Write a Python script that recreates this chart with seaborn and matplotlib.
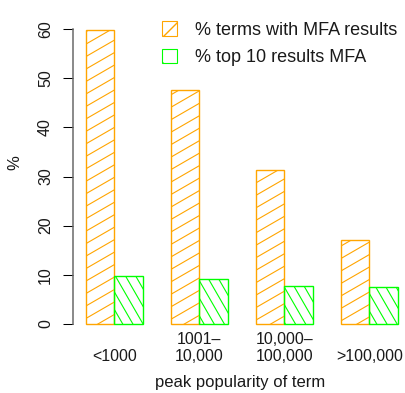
import numpy as np
import pandas as pd
import matplotlib
matplotlib.use("Agg")
import matplotlib.pyplot as plt
import seaborn as sns
from matplotlib.collections import LineCollection
from matplotlib.colors import to_rgb
from matplotlib.patches import Patch
from matplotlib.transforms import IdentityTransform

# Share of search terms by peak popularity bucket
categories = ["<1000", "1001–\n10,000", "10,000–\n100,000", ">100,000"]
series_names = ["% terms with MFA results", "% top 10 results MFA"]
pct_with_mfa = [59.8, 47.5, 31.3, 17.1]
pct_top10_mfa = [9.8, 9.1, 7.8, 7.5]
y_ticks = [0, 10, 20, 30, 40, 50, 60]

colors = ["#FFA500", "#00FF00"]
hatch_angles = [30, -60]      # degrees, in screen space
hatch_spacing = [10.8, 8.8]   # pixels between hatch lines

df = pd.DataFrame({
    "popularity": categories * 2,
    "series": [series_names[0]] * len(categories) + [series_names[1]] * len(categories),
    "pct": pct_with_mfa + pct_top10_mfa,
})

sns.set_theme(style="white")
plt.rcParams["font.family"] = ["Liberation Sans", "DejaVu Sans"]

W, H = 406, 393
fig = plt.figure(figsize=(W / 100, H / 100), dpi=100)
ax = fig.add_axes([73.5 / W, (H - 335.8) / H, 336.5 / W, 317.6 / H])

sns.barplot(
    data=df, x="popularity", y="pct", hue="series",
    order=categories, hue_order=series_names, palette=colors,
    width=2 / 3, fill=False, linewidth=1.0, errorbar=None,
    legend=False, ax=ax,
)
ax.set_xlim(-0.48, 3.48)
ax.set_ylim(-2.4, 62.2)


def add_hatch(patch, angle, spacing, color):
    """Draw angled hatch lines inside a bar, clipped to the bar outline."""
    x0, y0 = patch.get_x(), patch.get_y()
    x1, y1 = x0 + patch.get_width(), y0 + patch.get_height()
    corners = ax.transData.transform([(x0, y0), (x1, y0), (x1, y1), (x0, y1)])
    th = np.deg2rad(angle)
    d = np.array([np.cos(th), np.sin(th)])
    n = np.array([-np.sin(th), np.cos(th)])
    proj = corners @ n
    mid_along = (corners @ d).mean()
    length = np.hypot(*(corners[2] - corners[0]))
    segs = []
    for p in np.arange(np.floor(proj.min() / spacing) * spacing, proj.max() + spacing, spacing):
        c = n * p + d * mid_along
        segs.append([c - d * length, c + d * length])
    lc = LineCollection(segs, colors=color, linewidths=0.8, transform=IdentityTransform())
    ax.add_collection(lc, autolim=False)
    lc.set_clip_path(patch)


for patch in list(ax.patches):
    if patch.get_height() <= 0:
        continue
    ec = to_rgb(patch.get_edgecolor())
    for s, c in enumerate(colors):
        if np.allclose(ec, to_rgb(c), atol=0.02):
            add_hatch(patch, hatch_angles[s], hatch_spacing[s], c)

# y axis drawn R-style: only between first and last tick
sns.despine(ax=ax, top=True, right=True, bottom=True, left=False)
ax.spines["left"].set_bounds(0, 60)
ax.spines["left"].set_color("#6a6a6a")
ax.spines["left"].set_linewidth(1.1)
ax.set_yticks(y_ticks)
ax.set_yticklabels([str(v) for v in y_ticks], rotation=90, va="center", ha="right")
ax.tick_params(axis="y", left=True, length=7.2, width=0.75, color="black",
               pad=7.5, labelsize=11.5, labelcolor="#1a1a1a")
ax.tick_params(axis="x", bottom=False, length=0, pad=20, labelsize=11.5, labelcolor="#1a1a1a")
for lab in ax.get_xticklabels():
    lab.set_va("bottom")
    lab.set_linespacing(1.1)

ax.set_xlabel("peak popularity of term", fontsize=12, color="#1a1a1a")
ax.set_ylabel("%", fontsize=12, color="#1a1a1a")
ax.xaxis.set_label_coords((240 - 73.5) / 336.5, (335.8 - 383) / 317.6)
ax.xaxis.label.set_va("center")
ax.yaxis.set_label_coords((15 - 73.5) / 336.5, (335.8 - 163) / 317.6)
ax.yaxis.label.set_va("center")

handles = [Patch(facecolor="none", edgecolor=c, hatch=h, linewidth=0.8)
           for c, h in zip(colors, ["/", "\\"])]
fig.legend(handles, series_names, loc="upper left",
           bbox_to_anchor=(162 / W, 1 - 21.5 / H), bbox_transform=fig.transFigure,
           frameon=False, fontsize=13, handlelength=0.85, handleheight=0.85,
           handletextpad=1.0, labelspacing=0.55, borderpad=0, borderaxespad=0,
           labelcolor="#1a1a1a")

fig.savefig("out.png", dpi=100)
